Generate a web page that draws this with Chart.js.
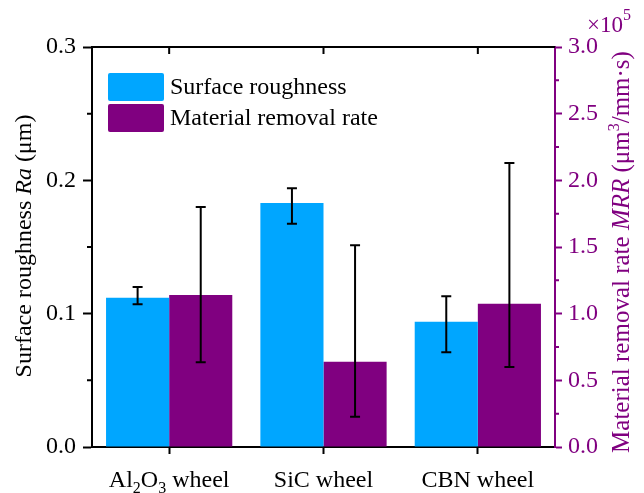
<!DOCTYPE html>
<html>
<head>
<meta charset="utf-8">
<title>Ra and MRR by wheel</title>
<script src="https://cdn.jsdelivr.net/npm/chart.js@4.4.0/dist/chart.umd.min.js"></script>
<style>
  html, body { margin: 0; padding: 0; background: #fff; }
  #wrap { width: 644px; height: 493px; }
</style>
</head>
<body>
<div id="wrap"><canvas id="chart" width="644" height="493"></canvas></div>
<script>
// Data
const wheels = ['Al2O3 wheel', 'SiC wheel', 'CBN wheel'];
const raValues = [0.112, 0.183, 0.094];
const raLow = [0.107, 0.1675, 0.071];
const raHigh = [0.120, 0.194, 0.113];
const mrrValues = [1.14, 0.64, 1.075];      // x10^5 um3/mm.s
const mrrLow = [0.635, 0.227, 0.60];
const mrrHigh = [1.80, 1.513, 2.13];
const raTicks = [0.0, 0.1, 0.2, 0.3];
const mrrTicks = [0.0, 0.5, 1.0, 1.5, 2.0, 2.5, 3.0];

const FONT = '"Liberation Serif", "Times New Roman", serif';
const BLUE = '#00A6FF';
const PURPLE = '#800080';

function fontOf(r) {
    return (r.italic ? 'italic ' : '') + r.size + 'px ' + FONT;
}

// draws a line of text made of styled pieces (italic, sub/superscript)
function drawRuns(ctx, runs, x, y, align, rotate, color) {
    ctx.save();
    ctx.translate(x, y);
    if (rotate) ctx.rotate(rotate);
    ctx.fillStyle = color || '#000';
    ctx.textAlign = 'left';
    ctx.textBaseline = 'alphabetic';
    let total = 0;
    runs.forEach(r => {
        ctx.font = fontOf(r);
        r.w = ctx.measureText(r.t).width;
        total += r.w;
    });
    let cx = align === 'center' ? -total / 2 : 0;
    runs.forEach(r => {
        ctx.font = fontOf(r);
        ctx.fillText(r.t, cx, r.dy || 0);
        cx += r.w;
    });
    ctx.restore();
}

function wheelRuns(name) {
    if (name.startsWith('Al2O3')) {
        return [
            { t: 'Al', size: 24 }, { t: '2', size: 16, dy: 6 },
            { t: 'O', size: 24 }, { t: '3', size: 16, dy: 6 },
            { t: ' wheel', size: 24 }
        ];
    }
    return [{ t: name, size: 24 }];
}

// error bars on top of each bar
const errorBars = {
    id: 'errorBars',
    afterDatasetsDraw(chart) {
        const ctx = chart.ctx;
        const sets = [[raLow, raHigh], [mrrLow, mrrHigh]];
        ctx.save();
        ctx.strokeStyle = '#000';
        ctx.lineWidth = 2;
        sets.forEach((pair, di) => {
            const meta = chart.getDatasetMeta(di);
            const scale = chart.scales[meta.yAxisID];
            meta.data.forEach((bar, i) => {
                const x = bar.x;
                const y1 = scale.getPixelForValue(pair[0][i]);
                const y2 = scale.getPixelForValue(pair[1][i]);
                ctx.beginPath();
                ctx.moveTo(x, y1); ctx.lineTo(x, y2);
                ctx.moveTo(x - 5, y1); ctx.lineTo(x + 5, y1);
                ctx.moveTo(x - 5, y2); ctx.lineTo(x + 5, y2);
                ctx.stroke();
            });
        });
        ctx.restore();
    }
};

// frame, minor ticks, titles, wheel labels and legend
const decorations = {
    id: 'decorations',
    afterDraw(chart) {
        const ctx = chart.ctx;
        const a = chart.chartArea;
        const x = chart.scales.x, y = chart.scales.y, y2 = chart.scales.y2;
        ctx.save();

        // top frame with inward ticks
        ctx.strokeStyle = '#000';
        ctx.lineWidth = 2;
        ctx.beginPath();
        ctx.moveTo(a.left, a.top); ctx.lineTo(a.right, a.top);
        wheels.forEach((w, i) => {
            const px = x.getPixelForTick(i);
            ctx.moveTo(px, a.top); ctx.lineTo(px, a.top + 7);
        });
        ctx.stroke();

        // minor ticks
        ctx.beginPath();
        for (let i = 0; i < raTicks.length - 1; i++) {
            const py = y.getPixelForValue((raTicks[i] + raTicks[i + 1]) / 2);
            ctx.moveTo(a.left, py); ctx.lineTo(a.left - 5, py);
        }
        ctx.stroke();
        ctx.strokeStyle = PURPLE;
        ctx.beginPath();
        for (let i = 0; i < mrrTicks.length - 1; i++) {
            const py = y2.getPixelForValue((mrrTicks[i] + mrrTicks[i + 1]) / 2);
            ctx.moveTo(a.right, py); ctx.lineTo(a.right + 4, py);
        }
        ctx.stroke();

        // wheel labels
        wheels.forEach((w, i) => {
            drawRuns(ctx, wheelRuns(w), x.getPixelForTick(i), 487, 'center');
        });

        // axis titles
        drawRuns(ctx, [
            { t: 'Surface roughness ', size: 24 },
            { t: 'Ra', size: 24, italic: true },
            { t: ' (\u03BCm)', size: 24 }
        ], 31, 246, 'center', -Math.PI / 2);
        drawRuns(ctx, [
            { t: 'Material removal rate ', size: 25 },
            { t: 'MRR', size: 25, italic: true },
            { t: ' (\u03BCm', size: 25 },
            { t: '3', size: 16, dy: -10 },
            { t: '/mm\u00B7s)', size: 25 }
        ], 629, 252, 'center', -Math.PI / 2, PURPLE);
        drawRuns(ctx, [
            { t: '\u00D710', size: 23 },
            { t: '5', size: 16, dy: -12 }
        ], 587, 32, 'left', 0, PURPLE);

        // legend
        chart.data.datasets.forEach((ds, i) => {
            const top = 73 + i * 31;
            ctx.fillStyle = ds.backgroundColor;
            ctx.beginPath();
            ctx.roundRect(108, top, 56, 28, 2);
            ctx.fill();
            ctx.fillStyle = '#000';
            ctx.font = '24px ' + FONT;
            ctx.textBaseline = 'middle';
            ctx.textAlign = 'left';
            ctx.fillText(ds.label, 170, top + 15);
        });

        ctx.restore();
    }
};

new Chart(document.getElementById('chart'), {
    type: 'bar',
    data: {
        labels: wheels,
        datasets: [
            {
                label: 'Surface roughness',
                data: raValues,
                yAxisID: 'y',
                backgroundColor: BLUE,
                categoryPercentage: 0.818,
                barPercentage: 1.0
            },
            {
                label: 'Material removal rate',
                data: mrrValues,
                yAxisID: 'y2',
                backgroundColor: PURPLE,
                categoryPercentage: 0.818,
                barPercentage: 1.0
            }
        ]
    },
    options: {
        responsive: false,
        animation: false,
        devicePixelRatio: 1,
        layout: { padding: { top: 47, left: 0, right: 0, bottom: 0 } },
        plugins: {
            legend: { display: false },
            tooltip: { enabled: false }
        },
        scales: {
            x: {
                position: 'bottom',
                offset: true,
                grid: { offset: false, drawOnChartArea: false, tickLength: 7, tickWidth: 2, color: '#000' },
                border: { color: '#000', width: 2 },
                ticks: { display: false },
                afterFit: s => { s.height = 46; }
            },
            y: {
                position: 'left',
                min: 0,
                max: 0.3,
                afterBuildTicks: s => { s.ticks = raTicks.map(v => ({ value: v })); },
                ticks: {
                    color: '#000',
                    padding: 7,
                    font: { family: FONT, size: 24 },
                    callback: v => Number(v).toFixed(1)
                },
                grid: { drawOnChartArea: false, tickLength: 9, tickWidth: 2, color: '#000' },
                border: { color: '#000', width: 2 },
                afterFit: s => { s.width = 92; }
            },
            y2: {
                position: 'right',
                min: 0,
                max: 3,
                afterBuildTicks: s => { s.ticks = mrrTicks.map(v => ({ value: v })); },
                ticks: {
                    color: PURPLE,
                    padding: 6,
                    font: { family: FONT, size: 24 },
                    callback: v => Number(v).toFixed(1)
                },
                grid: { drawOnChartArea: false, tickLength: 7, tickWidth: 2, color: PURPLE },
                border: { color: PURPLE, width: 2 },
                afterFit: s => { s.width = 89; }
            }
        }
    },
    plugins: [errorBars, decorations]
});
</script>
</body>
</html>
